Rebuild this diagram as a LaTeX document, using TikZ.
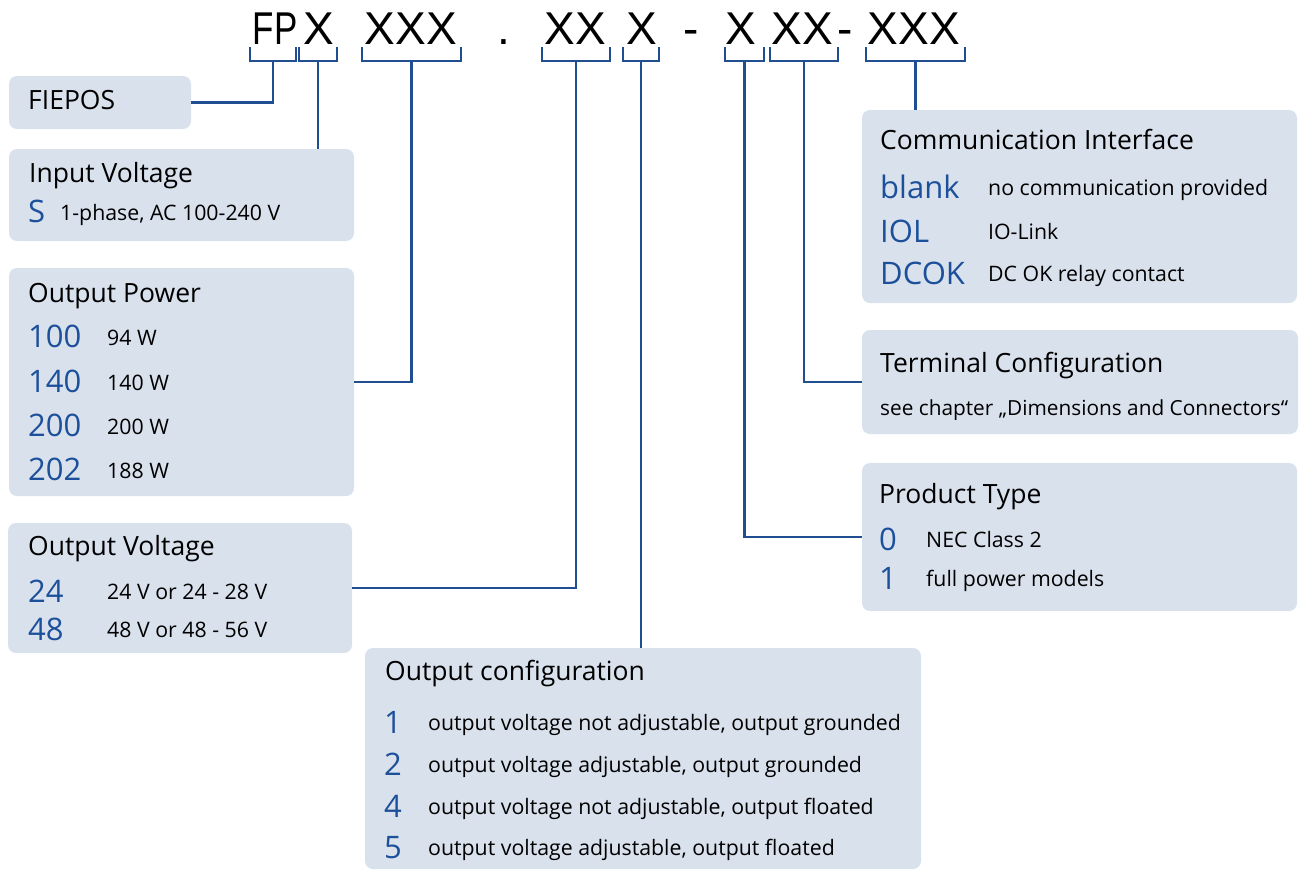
\documentclass[tikz,border=0pt]{standalone}
\usepackage{fontspec}
\setmainfont{Open Sans}
\newfontfamily\codefont{Liberation Sans}
\usetikzlibrary{positioning}
\definecolor{boxfill}{RGB}{217,225,237}
\definecolor{linkblue}{RGB}{31,78,145}
\definecolor{codeblue}{RGB}{28,80,155}

\begin{document}
\begin{tikzpicture}[x=1pt, y=-1pt,
    box/.style = {fill=boxfill, rounded corners=8pt, anchor=north west, inner sep=0pt, outer sep=0pt},
    conn/.style = {draw=linkblue, line width=2.6pt},
    title/.style = {anchor=base west, inner sep=0pt, font=\fontsize{26.5}{30}\selectfont},
    code/.style = {anchor=base west, inner sep=0pt, text=codeblue, font=\fontsize{31}{36}\selectfont},
    desc/.style = {anchor=base west, inner sep=0pt, font=\fontsize{21.3}{25}\selectfont},
    part/.style = {anchor=base, inner sep=0pt, font=\codefont\fontsize{46}{50}\selectfont}]
    \useasboundingbox (0,0) rectangle (1303,871);

    % type code
    \node[part] (pfp) at (275,44) {\scalebox{0.76}[1]{FP}};
    \node[part] (pin) at (318.5,44) {X};
    \node[part] (ppw) at (411,44) {XXX};
    \node[part] (pdot) at (504,44) {.};
    \node[part] (pov) at (575.5,44) {XX};
    \node[part] (poc) at (641.5,44) {X};
    \node[part] (pda) at (691,44) {-};
    \node[part] (ppt) at (741,44) {X};
    \node[part] (ptc) at (802,44) {XX};
    \node[part] (pdb) at (845.5,44) {-};
    \node[part] (pci) at (914,44) {XXX};

    % brackets
    \draw[conn] (250,47) |- (296,61) -- (296,47);
    \draw[conn] (299,47) |- (337,61) -- (337,47);
    \draw[conn] (362,47) |- (461,61) -- (461,47);
    \draw[conn] (542,47) |- (610,61) -- (610,47);
    \draw[conn] (623,47) |- (659,61) -- (659,47);
    \draw[conn] (725,47) |- (764,61) -- (764,47);
    \draw[conn] (770,47) |- (838,61) -- (838,47);
    \draw[conn] (866,47) |- (965,61) -- (965,47);
    \coordinate (fp) at (273,61);
    \coordinate (in) at (318,61);
    \coordinate (pw) at (411.5,61);
    \coordinate (ov) at (576,61);
    \coordinate (oc) at (641,61);
    \coordinate (pt) at (744.5,61);
    \coordinate (tc) at (804,61);
    \coordinate (ci) at (915.5,61);

    % boxes
    \node[box, minimum width=182, minimum height=53] (fiepos) at (9,76) {};
    \node[box, minimum width=345, minimum height=92] (input) at (9,149) {};
    \node[box, minimum width=345, minimum height=228] (power) at (9,268) {};
    \node[box, minimum width=344, minimum height=130] (volt) at (8,523) {};
    \node[box, minimum width=556, minimum height=221] (config) at (365,648) {};
    \node[box, minimum width=435, minimum height=193] (comm) at (862,110) {};
    \node[box, minimum width=436, minimum height=104] (term) at (862,330) {};
    \node[box, minimum width=435, minimum height=148] (ptype) at (862,463) {};

    % connectors
    \draw[conn] (fp) |- (fiepos.east);
    \draw[conn] (in) -- (in |- input.north);
    \draw[conn] (pw) |- (power.east);
    \draw[conn] (ov) |- (volt.east);
    \draw[conn] (oc) -- (oc |- config.north);
    \draw[conn] (pt) |- (ptype.west);
    \draw[conn] (tc) |- (term.west);
    \draw[conn] (ci) -- (ci |- comm.north);

    % FIEPOS
    \node[title] (tfiepos) at (28,109) {FIEPOS};

    % Input Voltage
    \node[title] (tinput) at (29,182) {Input Voltage};
    \node[code] (cs) at (28,222) {S};
    \node[desc] (ds) at (60,220) {1-phase, AC 100-240 V};

    % Output Power
    \node[title] (tpower) at (28,302) {Output Power};
    \node[code] (c100) at (28,347) {100};
    \node[code] (c140) at (28,392) {140};
    \node[code] (c200) at (28,436) {200};
    \node[code] (c202) at (28,480) {202};
    \node[desc] (d100) at (107,345) {94 W};
    \node[desc] (d140) at (107,390) {140 W};
    \node[desc] (d200) at (107,434) {200 W};
    \node[desc] (d202) at (107,478) {188 W};

    % Output Voltage
    \node[title] (tvolt) at (28,555) {Output Voltage};
    \node[code] (c24) at (28,602) {24};
    \node[code] (c48) at (28,640) {48};
    \node[desc] (d24) at (107,599) {24 V or 24 - 28 V};
    \node[desc] (d48) at (107,637) {48 V or 48 - 56 V};

    % Output configuration
    \node[title] (tconfig) at (385,680) {Output configuration};
    \node[code] (c1) at (384,733) {1};
    \node[code] (c2) at (384,775) {2};
    \node[code] (c4) at (384,817) {4};
    \node[code] (c5) at (384,858) {5};
    \node[desc] (d1) at (428,730) {output voltage not adjustable, output grounded};
    \node[desc] (d2) at (428,772) {output voltage adjustable, output grounded};
    \node[desc] (d4) at (428,814) {output voltage not adjustable, output floated};
    \node[desc] (d5) at (428,855) {output voltage adjustable, output floated};

    % Communication Interface
    \node[title] (tcomm) at (880,149) {Communication Interface};
    \node[code] (cblank) at (880,198) {blank};
    \node[code] (ciol) at (880,242) {IOL};
    \node[code] (cdcok) at (880,284) {DCOK};
    \node[desc] (dblank) at (988,195) {no communication provided};
    \node[desc] (diol) at (988,239) {IO-Link};
    \node[desc] (ddcok) at (988,281) {DC OK relay contact};

    % Terminal Configuration
    \node[title] (tterm) at (880,372) {Terminal Configuration};
    \node[desc, font=\fontsize{20.8}{25}\selectfont] (dterm) at (880,415) {see chapter „Dimensions and Connectors“};

    % Product Type
    \node[title] (tptype) at (879,503) {Product Type};
    \node[code] (c0) at (879,550) {0};
    \node[code] (c1b) at (879,589) {1};
    \node[desc] (d0) at (926,547) {NEC Class 2};
    \node[desc] (d1b) at (926,586) {full power models};
\end{tikzpicture}
\end{document}
